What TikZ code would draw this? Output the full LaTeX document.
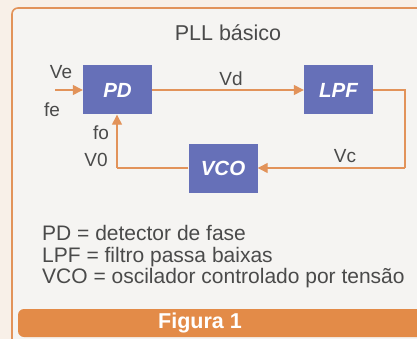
\documentclass[tikz,border=0pt]{standalone}
\usepackage{fontspec}
\setmainfont{Liberation Sans}
\usepackage{xcolor}
\usetikzlibrary{arrows.meta}

\definecolor{frameorange}{HTML}{E2935A}
\definecolor{barorange}{HTML}{E38B48}
\definecolor{blockblue}{HTML}{6670B8}
\definecolor{labelgray}{HTML}{4A4A4A}
\definecolor{paper}{HTML}{F5F4F2}
\definecolor{outside}{HTML}{F8F0E8}

\begin{document}
\begin{tikzpicture}[x=1pt,y=-1pt,
			% blocks and signal lines
			block/.style={fill=blockblue, text=white, minimum width=69pt, minimum height=49pt,
				font=\fontsize{20.5}{20.5}\selectfont\bfseries\itshape},
			signal/.style={draw=frameorange, line width=1.3pt, -{Triangle[length=10pt,width=10pt]}},
			wire/.style={draw=frameorange, line width=1.3pt},
			lbl/.style={text=labelgray, font=\fontsize{19}{19}\selectfont},
			legend/.style={text=labelgray, anchor=base west, text height=15pt, text depth=4pt,
				font=\fontsize{21}{21}\selectfont},
			every node/.style={inner sep=0pt}
			]
			
			\useasboundingbox (0,0) rectangle (417,339);
			\fill[outside] (0,0) rectangle (417,339);
			\draw[frameorange, line width=1.6pt, fill=paper, rounded corners=6pt]
				(12,345) -- (12,8) -- (425,8) -- (425,345);
			\fill[barorange, rounded corners=6pt] (18,309) rectangle (430,337);
			\node[text=white, font=\fontsize{21.5}{21.5}\selectfont\bfseries] (fig) at (200,323) {Figura 1};
			
			\node[lbl, font=\fontsize{21.5}{21.5}\selectfont] (title) at (228,33) {PLL básico};
			
			\node[block] (pd) at (117.5,90) {PD};
			\node[block] (lpf) at (338.5,90) {LPF};
			\node[block] (vco) at (223,168.5) {VCO};
			
			\coordinate (in) at (55,90);
			\coordinate (c1) at (405,90);
			\coordinate (c2) at (405,168);
			\coordinate (c3) at (117,168);
			
			\draw[signal] (in) -- (pd);
			\draw[signal] (pd) -- (lpf);
			\draw[wire] (lpf.east) -- (c1) -- (c2);
			\draw[signal] (c2) -- (vco.east |- c2);
			\draw[wire] (vco.west |- c3) -- (c3);
			\draw[signal] (c3) -- (pd.south -| c3);
			
			\node[lbl] (ve) at (61,72) {Ve};
			\node[lbl] (fe) at (52,110) {fe};
			\node[lbl] (vd) at (231,79) {Vd};
			\node[lbl] (vc) at (345,156) {Vc};
			\node[lbl] (fo) at (101,133) {fo};
			\node[lbl] (v0) at (96,160) {V0};
			
			\node[legend] (pddef) at (42,240.5) {PD = detector de fase};
			\node[legend] (lpfdef) at (42,262) {LPF = filtro passa baixas};
			\node[legend] (vcodef) at (42,283.5) {VCO = oscilador controlado por tensão};
			
		\end{tikzpicture}
\end{document}
